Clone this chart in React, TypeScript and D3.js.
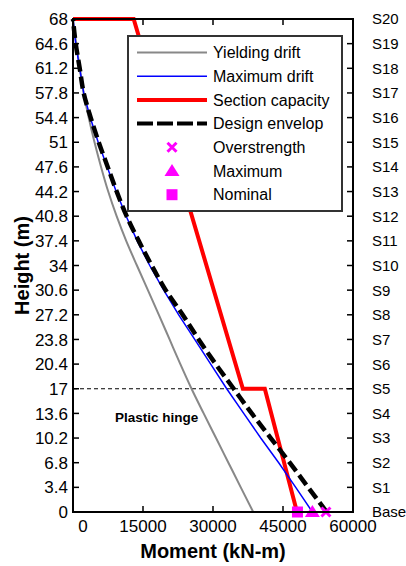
import * as d3 from 'd3';

// story heights (m), bottom to top
const heights = d3.range(21).map(i => +(i * 3.4).toFixed(1));
const storyLabels = ['Base', 'S1', 'S2', 'S3', 'S4', 'S5', 'S6', 'S7', 'S8', 'S9', 'S10',
  'S11', 'S12', 'S13', 'S14', 'S15', 'S16', 'S17', 'S18', 'S19', 'S20'];
const xTicks = [0, 15000, 30000, 45000, 60000];

// moments (kN-m) at each height, bottom to top
const yieldingDrift = [38620, 35950, 33300, 30650, 28000, 25400, 23000, 20700, 18400, 16050,
  13700, 11400, 9350, 7550, 6010, 4610, 3360, 2290, 1440, 690, 0];
const maximumDrift = [51300, 47730, 44080, 40230, 36580, 32940, 29510, 26080, 22650, 19440,
  16440, 13760, 11400, 9260, 7330, 5400, 3690, 2290, 1440, 580, 0];
const designEnvelop = [54360, 50400, 46440, 42370, 38300, 34440, 30580, 26930, 23500, 19860,
  16860, 14080, 11500, 9360, 7440, 5510, 3790, 2290, 1440, 580, 0];
const capacityHeights = [0, 17, 17, 68, 68];
const capacityMoments = [48000, 41100, 36400, 13000, 0];

const nominal = 48100;
const maximum = 51300;
const overstrength = 54200;
const hingeHeight = 17;

const FONT = '"Liberation Sans", Arial, sans-serif';
const MAGENTA = '#ff00ff';

const W = 406, H = 566;
const left = 73, right = 353, top = 19, bottom = 512;

export default function App() {
  const x = d3.scaleLinear().domain([0, 60000]).range([left, right]);
  const y = d3.scaleLinear().domain([0, 68]).range([bottom, top]);

  const line = d3.line<[number, number]>().x(d => x(d[0])).y(d => y(d[1]));
  const smooth = d3.line<[number, number]>().x(d => x(d[0])).y(d => y(d[1])).curve(d3.curveMonotoneY);

  const gray = smooth(yieldingDrift.map((m, i) => [m, heights[i]]));
  const blue = line(maximumDrift.map((m, i) => [m, heights[i]]));
  const black = smooth(designEnvelop.map((m, i) => [m, heights[i]]));
  const red = line(capacityMoments.map((m, i) => [m, capacityHeights[i]]));

  const legendItems = [
    { label: 'Yielding drift', type: 'line', color: '#888888', width: 2 },
    { label: 'Maximum drift', type: 'line', color: '#0000ff', width: 1.5 },
    { label: 'Section capacity', type: 'line', color: '#ff0000', width: 4 },
    { label: 'Design envelop', type: 'dash', color: '#000000', width: 4 },
    { label: 'Overstrength', type: 'x' },
    { label: 'Maximum', type: 'tri' },
    { label: 'Nominal', type: 'sq' },
  ];

  const marker = (type: string, cx: number, cy: number, key?: string) => {
    if (type === 'x') {
      const s = 4.5;
      return <path key={key} d={`M${cx - s},${cy - s}L${cx + s},${cy + s}M${cx - s},${cy + s}L${cx + s},${cy - s}`}
        stroke={MAGENTA} strokeWidth={3} />;
    }
    if (type === 'tri') {
      return <path key={key} d={`M${cx},${cy - 7}L${cx + 7.5},${cy + 5}L${cx - 7.5},${cy + 5}Z`} fill={MAGENTA} />;
    }
    return <rect key={key} x={cx - 5.5} y={cy - 5.5} width={11} height={11} fill={MAGENTA} />;
  };

  return (
    <svg width={W} height={H} style={{ position: 'absolute', left: 0, top: 0, background: '#fff' }}
      fontFamily={FONT}>
      {/* hinge level */}
      <line x1={left} x2={right} y1={y(hingeHeight)} y2={y(hingeHeight)} stroke="#000" strokeWidth={1}
        strokeDasharray="4,3" />
      <text x={115} y={422} fontSize={13.5} fontWeight="bold">Plastic hinge</text>

      <path d={gray!} fill="none" stroke="#888888" strokeWidth={2} />
      <path d={red!} fill="none" stroke="#ff0000" strokeWidth={4} strokeLinejoin="miter" />
      <path d={blue!} fill="none" stroke="#0000ff" strokeWidth={1.5} />
      <path d={black!} fill="none" stroke="#000" strokeWidth={4.5} strokeDasharray="12,5" />

      {marker('sq', x(nominal), y(0))}
      {marker('tri', x(maximum), y(0))}
      {marker('x', x(overstrength), y(0))}

      {/* frame */}
      <rect x={left} y={top} width={right - left} height={bottom - top} fill="none" stroke="#000" strokeWidth={2} />

      {/* left / right ticks */}
      {heights.map((h, i) => (
        <g key={'l' + i}>
          <line x1={left} x2={left + 6} y1={y(h)} y2={y(h)} stroke="#000" strokeWidth={1.5} />
          <line x1={right} x2={right - 6} y1={y(h)} y2={y(h)} stroke="#000" strokeWidth={1.5} />
          <text x={68} y={y(h)} dy="0.36em" textAnchor="end" fontSize={17}>{h}</text>
          <text x={372} y={y(h)} dy="0.36em" textAnchor="start" fontSize={15}>{storyLabels[i]}</text>
        </g>
      ))}
      {/* bottom / top ticks */}
      {xTicks.map((t, i) => (
        <g key={'b' + i}>
          <line x1={x(t)} x2={x(t)} y1={bottom} y2={bottom - 6} stroke="#000" strokeWidth={1.5} />
          <line x1={x(t)} x2={x(t)} y1={top} y2={top + 6} stroke="#000" strokeWidth={1.5} />
          <text x={x(t) + (t === 0 ? 10 : 0)} y={bottom + 20} textAnchor="middle" fontSize={17}>{t}</text>
        </g>
      ))}

      <text x={213} y={558} textAnchor="middle" fontSize={20} fontWeight="bold">Moment (kN-m)</text>
      <text transform={`translate(29,${(top + bottom) / 2}) rotate(-90)`} textAnchor="middle" fontSize={20}
        fontWeight="bold">Height (m)</text>

      {/* legend */}
      <rect x={128} y={36} width={214} height={175} fill="#fff" stroke="#333" strokeWidth={2} />
      {legendItems.map((it, i) => {
        const cy = 52.5 + i * 23.7;
        return (
          <g key={'lg' + i}>
            {it.type === 'line' && <line x1={137} x2={207} y1={cy} y2={cy} stroke={it.color} strokeWidth={it.width} />}
            {it.type === 'dash' && <line x1={137} x2={207} y1={cy} y2={cy} stroke={it.color} strokeWidth={it.width}
              strokeDasharray="16,4" />}
            {it.type !== 'line' && it.type !== 'dash' && marker(it.type, 172, cy)}
            <text x={213} y={cy} dy="0.36em" fontSize={16}>{it.label}</text>
          </g>
        );
      })}
    </svg>
  );
}
